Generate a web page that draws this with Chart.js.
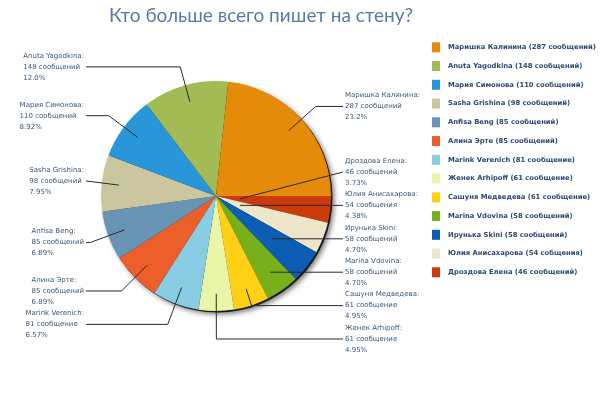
<!DOCTYPE html>
<html>
<head>
<meta charset="utf-8">
<script src="https://cdn.jsdelivr.net/npm/chart.js@4.4.1/dist/chart.umd.min.js"></script>
<style>
    html, body { margin: 0; padding: 0; background: #fff; }
    #wrap { width: 604px; height: 393px; position: relative; }
</style>
</head>
<body>
<div id="wrap"><canvas id="wallChart"></canvas></div>
<script>
// кто сколько написал на стену (порядок как в легенде)
const names = [
    'Маришка Калинина',
    'Anuta Yagodkina',
    'Мария Симонова',
    'Sasha Grishina',
    'Anfisa Beng',
    'Алина Эрте',
    'Marink Verenich',
    'Женек Arhipoff',
    'Сашуня Медведева',
    'Marina Vdovina',
    'Ирунька Skini',
    'Юлия Анисахарова',
    'Дроздова Елена'
];
const messages = [287, 148, 110, 98, 85, 85, 81, 61, 61, 58, 58, 54, 46];
const labelUnits = [
    'сообщений', 'сообщений', 'сообщений', 'сообщений', 'сообщений', 'сообщений',
    'сообщение', 'сообщение', 'сообщение', 'сообщений', 'сообщений', 'сообщения', 'сообщений'
];
const legendUnits = [
    'сообщений', 'сообщений', 'сообщений', 'сообщений', 'сообщений', 'сообщений',
    'сообщение', 'сообщение', 'сообщение', 'сообщений', 'сообщений', 'собщения', 'сообщений'
];
const colors = [
    '#e68a0a', '#a2bb55', '#2a96da', '#c9c6a0', '#6895b6', '#ec5f2b', '#88cde4',
    '#e9f6a8', '#ffd014', '#77b01a', '#0c5db4', '#ede6ca', '#cc3a0a'
];
const chartTitle = 'Кто больше всего пишет на стену?';

const total = messages.reduce((a, b) => a + b, 0);

function pctText(v) {
    const p = v / total * 100;
    const d = p >= 10 ? 1 : 2;
    const f = Math.pow(10, d);
    return (Math.floor(p * f + 1e-9) / f).toFixed(d) + '%';
}

const GAP = 33.4;

const pieDecor = {
    id: 'pieDecor',
    beforeDatasetsDraw(chart) {
        const arc = chart.getDatasetMeta(0).data[0];
        if (!arc) return;
        const ctx = chart.ctx;
        ctx.save();
        ctx.shadowColor = 'rgba(0, 0, 0, 0.5)';
        ctx.shadowBlur = 5;
        ctx.shadowOffsetX = 2;
        ctx.shadowOffsetY = 2;
        ctx.fillStyle = '#1a1a1a';
        ctx.beginPath();
        ctx.arc(arc.x + 1.5, arc.y + 1.5, arc.outerRadius, 0, Math.PI * 2);
        ctx.fill();
        ctx.restore();
    },
    afterDatasetsDraw(chart) {
        const ctx = chart.ctx;
        const arcs = chart.getDatasetMeta(0).data;
        const n = arcs.length;
        const cx = arcs[0].x, cy = arcs[0].y, r = arcs[0].outerRadius;

        // подписи у секторов
        const items = arcs.map((a, j) => {
            const mid = (a.startAngle + a.endAngle) / 2;
            return {
                i: n - 1 - j,
                cos: Math.cos(mid),
                sin: Math.sin(mid),
                y: cy + Math.sin(mid) * r * 1.165
            };
        });
        ['right', 'left'].forEach(side => {
            const group = items
                .filter(it => (it.cos >= 0) === (side === 'right'))
                .sort((a, b) => a.y - b.y);
            for (let k = 1; k < group.length; k++) {
                group[k].y = Math.max(group[k].y, group[k - 1].y + GAP);
            }
            const maxY = chart.chartArea.bottom + 28;
            if (group.length && group[group.length - 1].y > maxY) {
                group[group.length - 1].y = maxY;
                for (let k = group.length - 2; k >= 0; k--) {
                    group[k].y = Math.min(group[k].y, group[k + 1].y - GAP);
                }
            }
            group.forEach(it => { it.side = side; });
        });

        ctx.save();
        ctx.font = '7px "DejaVu Sans"';
        ctx.textBaseline = 'middle';
        ctx.textAlign = 'left';
        items.forEach(it => {
            const right = it.side === 'right';
            const endX = right ? cx + 127 : cx - 130;
            const t = (it.y - cy) / it.sin;
            let ax, ay, ex;
            if (t > 0 && isFinite(t)) {
                const ta = Math.min(Math.max(t, r * 0.21), r * 0.85);
                ax = cx + it.cos * ta;
                ay = cy + it.sin * ta;
                ex = cx + it.cos * t;
                if (right ? ex > endX : ex < endX) ex = endX;
            } else {
                ax = cx + it.cos * r * 0.21;
                ay = cy + it.sin * r * 0.21;
                ex = endX;
            }
            ctx.strokeStyle = '#2a2a2a';
            ctx.lineWidth = 1;
            ctx.beginPath();
            ctx.moveTo(ax, ay);
            ctx.lineTo(ex, it.y);
            ctx.lineTo(endX, it.y);
            ctx.stroke();

            const lines = [
                names[it.i] + ':',
                messages[it.i] + ' ' + labelUnits[it.i],
                pctText(messages[it.i])
            ];
            const w = Math.max(...lines.map(s => ctx.measureText(s).width));
            const tx = right ? endX + 2 : endX - 2 - w;
            ctx.fillStyle = '#3d5674';
            lines.forEach((s, k) => ctx.fillText(s, tx, it.y + (k - 1) * 11));
        });

        // легенда
        const lx = chart.chartArea.right;
        ctx.font = 'bold 6.8px "DejaVu Sans"';
        names.forEach((name, i) => {
            const y = 47.3 + i * 18.75;
            ctx.fillStyle = colors[i];
            ctx.fillRect(lx, y - 5, 8, 10);
            ctx.fillStyle = '#2b4a70';
            ctx.fillText(`${name} (${messages[i]} ${legendUnits[i]})`, lx + 16, y);
        });

        // заголовок
        ctx.font = '19px Lato';
        ctx.textAlign = 'center';
        ctx.fillStyle = '#5b7aa1';
        ctx.fillText(chartTitle, 261, 16);
        ctx.restore();
    }
};

new Chart(document.getElementById('wallChart'), {
    type: 'pie',
    data: {
        labels: names.slice().reverse(),
        datasets: [{
            data: messages.slice().reverse(),
            backgroundColor: colors.slice().reverse(),
            borderWidth: 0
        }]
    },
    options: {
        responsive: true,
        maintainAspectRatio: false,
        animation: false,
        rotation: 90,
        layout: {
            padding: { left: 0, right: 172, top: 81, bottom: 82 }
        },
        plugins: {
            legend: { display: false },
            title: { display: false },
            tooltip: { enabled: false }
        }
    },
    plugins: [pieDecor]
});
</script>
</body>
</html>
